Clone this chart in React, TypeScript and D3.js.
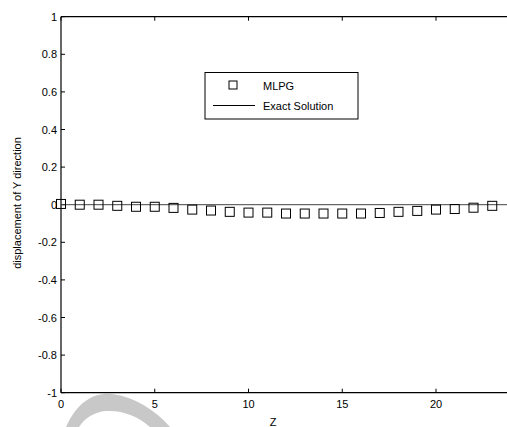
import React from "react";
import * as d3 from "d3";

const zValues = [0, 1, 2, 3, 4, 5, 6, 7, 8, 9, 10, 11, 12, 13, 14, 15, 16, 17, 18, 19, 20, 21, 22, 23];
const mlpgValues = [0.004, 0, 0, -0.006, -0.011, -0.011, -0.017, -0.026, -0.031, -0.038, -0.042, -0.042, -0.047, -0.047, -0.047, -0.047, -0.047, -0.044, -0.038, -0.033, -0.026, -0.023, -0.016, -0.006];
const exactZ = [0, 24];
const exactValues = [0, 0];
const xTicks = [0, 5, 10, 15, 20];
const yTicks = [-1, -0.8, -0.6, -0.4, -0.2, 0, 0.2, 0.4, 0.6, 0.8, 1];
const yTickLabels = ["-1", "-0.8", "-0.6", "-0.4", "-0.2", "0", "0.2", "0.4", "0.6", "0.8", "1"];

export default function App() {
  const W = 507, H = 427;
  const x = d3.scaleLinear().domain([0, 24]).range([61, 511]);
  const y = d3.scaleLinear().domain([-1, 1]).range([392.7, 16.7]);
  const line = d3.line<number>().x((_, i) => x(exactZ[i])).y((d) => y(d));
  const font = "Arial, 'Liberation Sans', sans-serif";
  const s = 9;
  return (
    <svg width={W} height={H} style={{ position: "absolute", left: 0, top: 0 }} fontFamily={font}>
      <rect x={0} y={0} width={W} height={H} fill="#fff" />
      {/* watermark arc */}
      <path d="M66,427 C78,400 96,392 112,394 C135,397 155,410 170,427 L150,427 C138,416 122,410 106,411 C94,412 85,418 79,427 Z" fill="#c8c8c8" />
      {/* axes */}
      <line x1={61} x2={W} y1={y(1)} y2={y(1)} stroke="#000" strokeWidth={1.2} />
      <line x1={61} x2={W} y1={y(-1)} y2={y(-1)} stroke="#000" strokeWidth={1.2} />
      <line x1={61} x2={61} y1={y(1)} y2={y(-1)} stroke="#000" strokeWidth={1.2} />
      {yTicks.map((t, i) => (
        <g key={"y" + i}>
          <line x1={61} x2={65} y1={y(t)} y2={y(t)} stroke="#000" />
          <text x={57} y={y(t) + 4} fontSize={11} textAnchor="end">{yTickLabels[i]}</text>
        </g>
      ))}
      {xTicks.map((t) => (
        <g key={"x" + t}>
          <line x1={x(t)} x2={x(t)} y1={y(-1)} y2={y(-1) - 4} stroke="#000" />
          <line x1={x(t)} x2={x(t)} y1={y(1)} y2={y(1) + 4} stroke="#000" />
          <text x={x(t)} y={408} fontSize={11} textAnchor="middle">{t}</text>
        </g>
      ))}
      <text x={273} y={426} fontSize={11} textAnchor="middle">Z</text>
      <text transform={`translate(21,${203}) rotate(-90)`} fontSize={11} textAnchor="middle">displacement of Y direction</text>
      {/* exact line */}
      <path d={line(exactValues) || ""} fill="none" stroke="#444" strokeWidth={1} />
      {/* markers */}
      {mlpgValues.map((v, i) => (
        <rect key={"m" + i} x={x(zValues[i]) - s / 2} y={y(v) - s / 2} width={s} height={s} fill="none" stroke="#000" strokeWidth={1} />
      ))}
      {/* legend */}
      <rect x={205} y={72.5} width={153} height={46.5} fill="#fff" stroke="#000" strokeWidth={1} />
      <rect x={229} y={81} width={8} height={8} fill="none" stroke="#000" />
      <text x={263} y={90} fontSize={11}>MLPG</text>
      <line x1={213} x2={255} y1={105.5} y2={105.5} stroke="#000" />
      <text x={263} y={109.5} fontSize={11}>Exact Solution</text>
    </svg>
  );
}
